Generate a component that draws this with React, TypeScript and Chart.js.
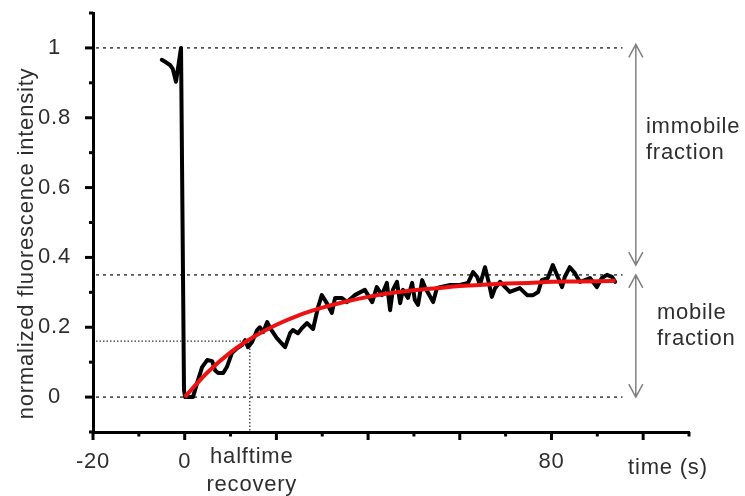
import { useEffect, useRef } from 'react';
import { Chart, registerables } from 'chart.js';

Chart.register(...registerables);

// FRAP trace: normalized intensity over time (s), bleach at t = 0
const timeS = [
  -5.0, -4.0, -3.2, -2.6, -1.9, -0.8, -0.15, 0.1, 1.8, 2.7, 3.8, 4.9, 6.0, 6.6, 7.3, 8.4, 9.2,
  10.3, 11.4, 12.5, 13.2, 13.8, 14.7, 15.8, 16.4, 17.1, 18.0, 18.6, 20.1, 21.9, 23.0, 23.6,
  24.7, 25.6, 26.7, 28.0, 29.1, 29.9, 31.0, 32.1, 32.8, 34.3, 35.4, 37.1, 39.3, 40.9, 41.9,
  43.0, 44.1, 44.8, 45.4, 46.3, 47.0, 47.6, 48.7, 49.6, 50.2, 50.9, 51.8, 52.4, 53.1, 54.2,
  55.0, 55.7, 57.9, 60.0, 61.8, 62.9, 63.8, 64.4, 65.5, 66.2, 67.0, 67.7, 68.8, 70.9, 73.1,
  74.7, 76.0, 77.1, 77.9, 79.2, 80.3, 81.4, 82.3, 82.9, 84.0, 85.1, 86.2, 87.3, 88.4, 89.9,
  91.0, 92.1, 93.2, 93.9,
];
const intensity = [
  0.966, 0.958, 0.951, 0.94, 0.903, 1.0, 0.02, 0.0, 0.0, 0.04, 0.086, 0.106, 0.103, 0.077, 0.069, 0.069, 0.086,
  0.126, 0.14, 0.149, 0.163, 0.143, 0.158, 0.192, 0.2, 0.186, 0.215, 0.198, 0.169, 0.143, 0.183, 0.192,
  0.183, 0.198, 0.212, 0.195, 0.258, 0.292, 0.269, 0.241, 0.284, 0.284, 0.272, 0.292, 0.307, 0.272, 0.315,
  0.292, 0.327, 0.249, 0.307, 0.33, 0.269, 0.307, 0.284, 0.327, 0.278, 0.264, 0.335, 0.315, 0.298, 0.272,
  0.312, 0.315, 0.321, 0.321, 0.327, 0.358, 0.344, 0.321, 0.372, 0.335, 0.287, 0.312, 0.33, 0.301, 0.312,
  0.292, 0.292, 0.301, 0.335, 0.341, 0.378, 0.344, 0.315, 0.344, 0.372, 0.355, 0.33, 0.335, 0.341, 0.315,
  0.341, 0.35, 0.344, 0.33,
];

// Recovery fit curve
const fitTimeS = [0, 5, 10, 15, 20, 25, 30, 35, 40, 45, 50, 55, 60, 65, 70, 75, 80, 85, 90, 94];
const fitIntensity = [
  0, 0.071, 0.128, 0.172, 0.207, 0.235, 0.256, 0.273, 0.287, 0.298, 0.306, 0.312, 0.318,
  0.322, 0.325, 0.327, 0.33, 0.331, 0.332, 0.333,
];

const xLabelledTicks = [-20, 0, 80];
const yLabelledTicks = [0, 0.2, 0.4, 0.6, 0.8, 1];

// Reference levels: pre-bleach, plateau, post-bleach
const referenceLevels = [1, 0.35, 0];
const referenceEndS = 95.5;
const halftimeS = 14.2;
const halfIntensity = 0.16;
const plateauLevel = 0.35;
const arrowTimeS = 98.4;

const FONT = '"Liberation Sans", Arial, Helvetica, sans-serif';
const TEXT = '#2e2e2e';
const SPACING = '0.8px';
const SIZE = 22;

function drawDoubleArrow(ctx: CanvasRenderingContext2D, x: number, yTop: number, yBottom: number) {
  const hw = 7;
  const hl = 13;
  ctx.beginPath();
  ctx.moveTo(x, yTop);
  ctx.lineTo(x, yBottom);
  ctx.moveTo(x - hw, yTop + hl);
  ctx.lineTo(x, yTop);
  ctx.lineTo(x + hw, yTop + hl);
  ctx.moveTo(x - hw, yBottom - hl);
  ctx.lineTo(x, yBottom);
  ctx.lineTo(x + hw, yBottom - hl);
  ctx.stroke();
}

const frapDecor = {
  id: 'frapDecor',
  beforeUpdate(chart: any) {
    chart.ctx.letterSpacing = SPACING;
  },
  beforeDraw(chart: any) {
    chart.ctx.letterSpacing = SPACING;
  },
  beforeDatasetsDraw(chart: any) {
    const { ctx, scales } = chart;
    const x = scales.x;
    const y = scales.y;
    ctx.save();
    ctx.strokeStyle = '#555';
    ctx.lineWidth = 1.8;
    ctx.setLineDash([3, 4]);
    for (const lv of referenceLevels) {
      const py = y.getPixelForValue(lv);
      ctx.beginPath();
      ctx.moveTo(x.left + 3, py);
      ctx.lineTo(x.getPixelForValue(referenceEndS), py);
      ctx.stroke();
    }
    // halftime guide lines
    ctx.strokeStyle = '#333';
    ctx.lineWidth = 1.3;
    ctx.setLineDash([1.5, 2]);
    const hx = x.getPixelForValue(halftimeS);
    const hy = y.getPixelForValue(halfIntensity);
    ctx.beginPath();
    ctx.moveTo(x.left + 3, hy);
    ctx.lineTo(hx, hy);
    ctx.lineTo(hx, y.bottom);
    ctx.stroke();
    ctx.restore();
  },
  afterDraw(chart: any) {
    const { ctx, scales } = chart;
    const x = scales.x;
    const y = scales.y;
    ctx.save();
    // tick marks (major every second step)
    ctx.strokeStyle = '#000';
    ctx.lineWidth = 3;
    ctx.setLineDash([]);
    for (const t of x.ticks) {
      const px = x.getPixelForValue(t.value);
      const major = Math.round(t.value / 10) % 2 === 0;
      ctx.beginPath();
      ctx.moveTo(px, y.bottom);
      ctx.lineTo(px, y.bottom + (major ? 8 : 4.5));
      ctx.stroke();
    }
    for (const t of y.ticks) {
      const py = y.getPixelForValue(t.value);
      const major = Math.round(t.value * 10) % 2 === 0;
      ctx.beginPath();
      ctx.moveTo(x.left, py);
      ctx.lineTo(x.left - (major ? 8 : 4), py);
      ctx.stroke();
    }

    // fraction arrows
    ctx.strokeStyle = '#808080';
    ctx.lineWidth = 1.5;
    const ax = x.getPixelForValue(arrowTimeS);
    drawDoubleArrow(ctx, ax, y.getPixelForValue(1.01), y.getPixelForValue(plateauLevel + 0.028));
    drawDoubleArrow(ctx, ax, y.getPixelForValue(plateauLevel), y.getPixelForValue(0));

    // texts
    ctx.letterSpacing = SPACING;
    ctx.fillStyle = TEXT;
    ctx.font = `${SIZE}px ${FONT}`;
    ctx.textBaseline = 'alphabetic';

    ctx.textAlign = 'left';
    const imX = x.getPixelForValue(100.6);
    ctx.fillText('immobile', imX, y.getPixelForValue(0.756));
    ctx.fillText('fraction', imX, y.getPixelForValue(0.682));
    const moX = x.getPixelForValue(103.0);
    ctx.fillText('mobile', moX, y.getPixelForValue(0.2235));
    ctx.fillText('fraction', moX, y.getPixelForValue(0.149));

    ctx.textAlign = 'center';
    const hx = x.getPixelForValue(halftimeS) + 2;
    ctx.fillText('halftime', hx, y.bottom + 31);
    ctx.fillText('recovery', hx, y.bottom + 59);
    ctx.fillText('time (s)', x.getPixelForValue(105.4), y.bottom + 42);

    ctx.translate(x.left - 60, y.getPixelForValue(0.44));
    ctx.rotate(-Math.PI / 2);
    ctx.fillText('normalized fluorescence intensity', 0, 0);
    ctx.restore();
  },
};

export default function App() {
  const canvasRef = useRef<HTMLCanvasElement>(null);

  useEffect(() => {
    const canvas = canvasRef.current;
    if (!canvas) return;
    const chart = new Chart(canvas, {
      type: 'line',
      data: {
        datasets: [
          {
            label: 'fit',
            data: fitTimeS.map((t, i) => ({ x: t, y: fitIntensity[i] })),
            borderColor: '#ee1111',
            borderWidth: 4,
            pointRadius: 0,
            cubicInterpolationMode: 'monotone',
            fill: false,
            order: 0,
          },
          {
            label: 'intensity',
            data: timeS.map((t, i) => ({ x: t, y: intensity[i] })),
            borderColor: '#000',
            borderWidth: 4,
            borderJoinStyle: 'round',
            borderCapStyle: 'round',
            pointRadius: 0,
            tension: 0,
            fill: false,
            order: 1,
          },
        ],
      },
      options: {
        animation: false,
        responsive: false,
        devicePixelRatio: 1,
        layout: { padding: { left: 0, top: 13, right: 56, bottom: 0 } },
        plugins: { legend: { display: false }, tooltip: { enabled: false } },
        scales: {
          x: {
            type: 'linear',
            min: -20,
            max: 110,
            afterFit: (s: any) => {
              s.height = 64;
              s.paddingLeft = 0;
              s.paddingRight = 0;
            },
            grid: { display: false },
            border: { display: true, color: '#000', width: 3 },
            ticks: {
              stepSize: 10,
              autoSkip: false,
              maxRotation: 0,
              padding: 9,
              color: TEXT,
              font: { family: FONT, size: SIZE },
              callback: (v: any) => (xLabelledTicks.includes(Number(v)) ? String(v) : ''),
            },
          },
          y: {
            type: 'linear',
            min: -0.1,
            max: 1.1,
            afterFit: (s: any) => {
              s.width = 93;
              s.paddingTop = 0;
              s.paddingBottom = 0;
            },
            grid: { display: false },
            border: { display: true, color: '#000', width: 3 },
            ticks: {
              stepSize: 0.1,
              autoSkip: false,
              crossAlign: 'center',
              padding: 14,
              color: TEXT,
              font: { family: FONT, size: SIZE },
              callback: (v: any) => {
                const r = Math.round(Number(v) * 10) / 10;
                return yLabelledTicks.includes(r) ? String(r) : '';
              },
            },
          },
        },
      },
      plugins: [frapDecor],
    } as any);
    return () => chart.destroy();
  }, []);

  return (
    <div style={{ position: 'absolute', left: 0, top: 0, width: 745, height: 496, background: '#fff' }}>
      <canvas ref={canvasRef} width={745} height={496} style={{ display: 'block' }} />
    </div>
  );
}
